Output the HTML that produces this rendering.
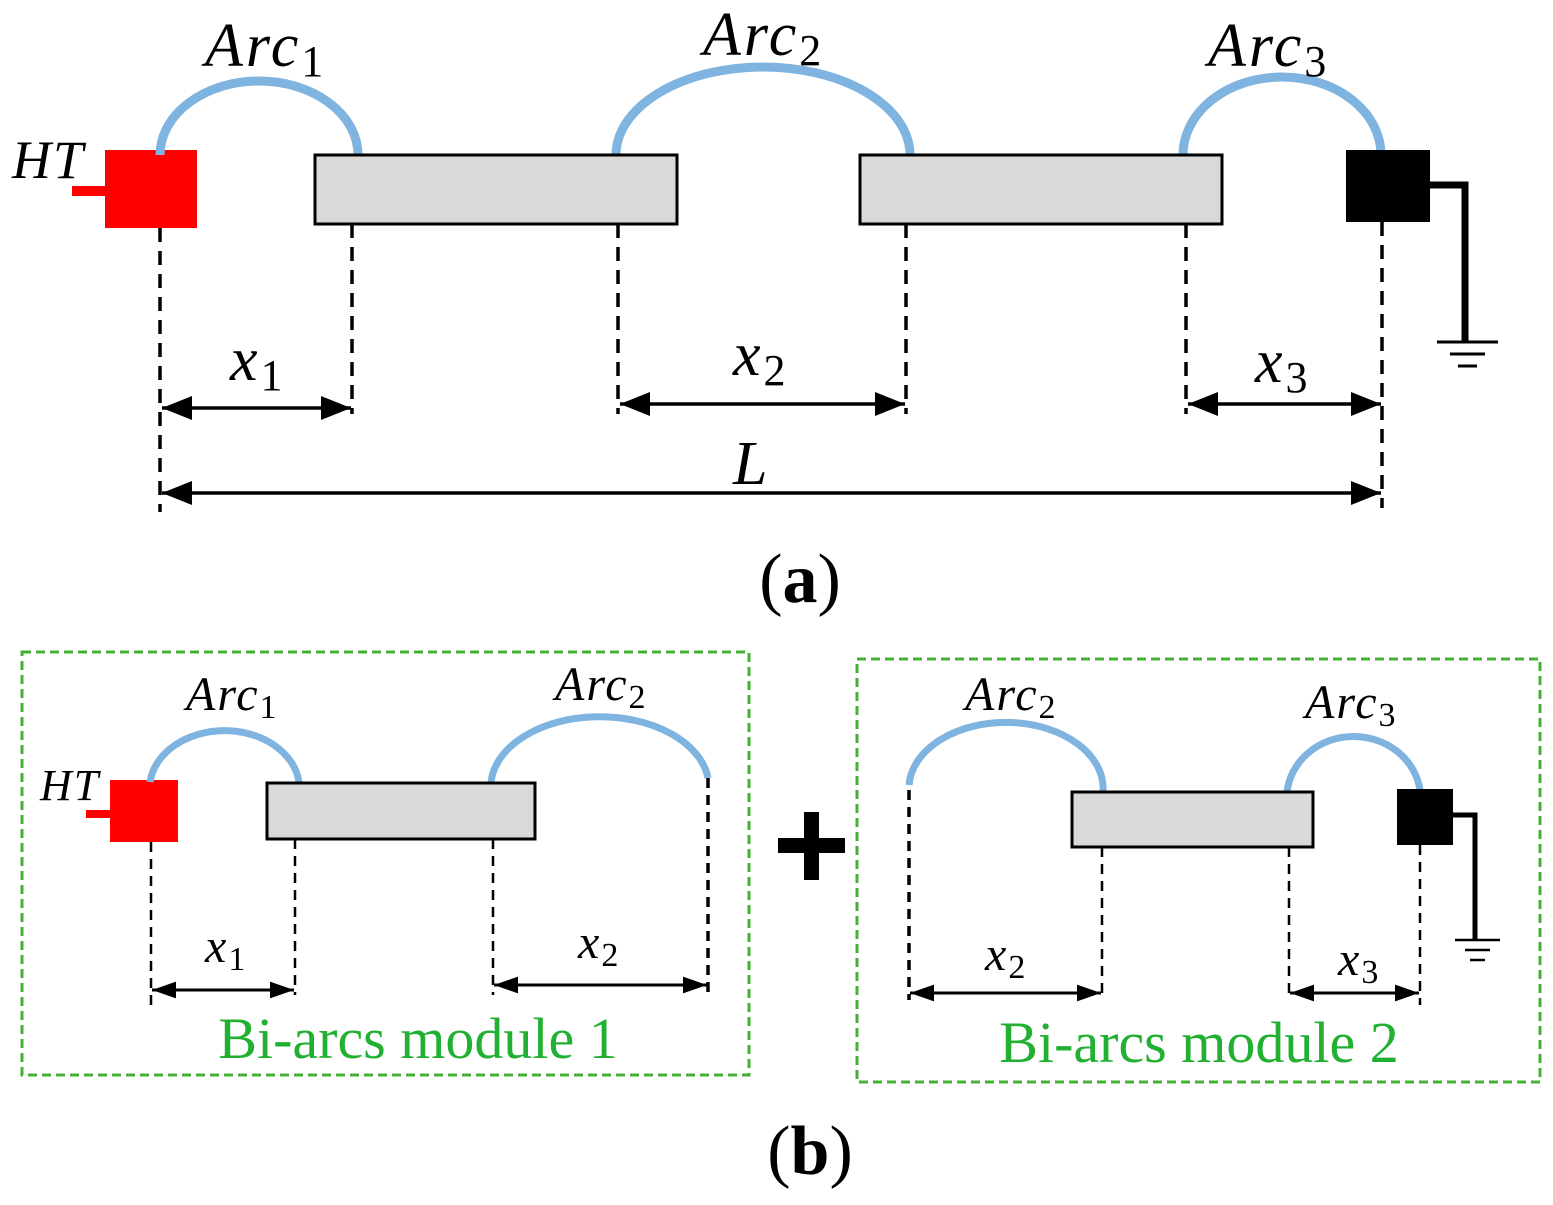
<!DOCTYPE html>
<html><head><meta charset="utf-8"><style>html,body{margin:0;padding:0;background:#fff}svg{display:block}</style></head><body>
<svg width="1553" height="1205" viewBox="0 0 1553 1205" xmlns="http://www.w3.org/2000/svg">
<defs>
<marker id="ab" viewBox="0 0 10 10" refX="10" refY="5" markerWidth="30" markerHeight="30" markerUnits="userSpaceOnUse" orient="auto-start-reverse"><path d="M0,1 L10,5 L0,9 z" fill="#000"/></marker>
<marker id="as" viewBox="0 0 10 10" refX="10" refY="5" markerWidth="24" markerHeight="24" markerUnits="userSpaceOnUse" orient="auto-start-reverse"><path d="M0,1.5 L10,5 L0,8.5 z" fill="#000"/></marker>
</defs>
<g font-family="Liberation Serif, serif" font-style="italic" fill="#000">
<!-- (a) -->
<text x="12" y="178" font-size="54" letter-spacing="2">HT</text>
<rect x="72" y="186" width="35" height="10" fill="#f00"/>
<rect x="105" y="150" width="92" height="78" fill="#f00"/>
<g fill="none" stroke="#7fb3e0" stroke-width="9">
<path d="M160,155 A99,74 0 0 1 358,155"/>
<path d="M616,155 A147,88 0 0 1 910,155"/>
<path d="M1183,155 A99,78 0 0 1 1381,155"/>
</g>
<rect x="315" y="155" width="362" height="69" fill="#d9d9d9" stroke="#000" stroke-width="3"/>
<rect x="860" y="155" width="362" height="69" fill="#d9d9d9" stroke="#000" stroke-width="3"/>
<rect x="1346" y="150" width="84" height="72" fill="#000"/>
<path d="M1430,185 H1465 V342" fill="none" stroke="#000" stroke-width="7"/>
<g stroke="#000" stroke-width="3">
<line x1="1437" y1="342" x2="1498" y2="342"/><line x1="1450" y1="354" x2="1485" y2="354"/><line x1="1458" y1="366" x2="1477" y2="366"/>
</g>
<g stroke="#000" stroke-width="3.5" stroke-dasharray="14,9" fill="none">
<line x1="160" y1="228" x2="160" y2="512"/>
<line x1="352" y1="224" x2="352" y2="414"/>
<line x1="618" y1="224" x2="618" y2="414"/>
<line x1="906" y1="224" x2="906" y2="414"/>
<line x1="1186" y1="224" x2="1186" y2="414"/>
<line x1="1382" y1="222" x2="1382" y2="508"/>
</g>
<g stroke="#000" stroke-width="3.5" fill="none">
<line x1="162" y1="408" x2="351" y2="408" marker-start="url(#ab)" marker-end="url(#ab)"/>
<line x1="620" y1="404" x2="905" y2="404" marker-start="url(#ab)" marker-end="url(#ab)"/>
<line x1="1188" y1="404" x2="1381" y2="404" marker-start="url(#ab)" marker-end="url(#ab)"/>
<line x1="162" y1="493" x2="1381" y2="493" marker-start="url(#ab)" marker-end="url(#ab)"/>
</g>
<text x="205" y="66" font-size="62" letter-spacing="3">Arc<tspan font-style="normal" font-size="44" dy="10">1</tspan></text>
<text x="703" y="55" font-size="62" letter-spacing="3">Arc<tspan font-style="normal" font-size="44" dy="10">2</tspan></text>
<text x="1208" y="66" font-size="62" letter-spacing="3">Arc<tspan font-style="normal" font-size="44" dy="10">3</tspan></text>
<text x="230" y="380" font-size="62" letter-spacing="3">x<tspan font-style="normal" font-size="44" dy="10">1</tspan></text>
<text x="733" y="375" font-size="62" letter-spacing="3">x<tspan font-style="normal" font-size="44" dy="10">2</tspan></text>
<text x="1255" y="382" font-size="62" letter-spacing="3">x<tspan font-style="normal" font-size="44" dy="10">3</tspan></text>
<text x="733" y="484" font-size="62">L</text>
<text x="800" y="602" font-size="70" font-style="normal" text-anchor="middle">(<tspan font-weight="bold">a</tspan>)</text>

<!-- (b) -->
<g fill="none" stroke="#44b034" stroke-width="3" stroke-dasharray="9,5">
<rect x="22" y="652" width="727" height="423"/>
<rect x="857" y="659" width="683" height="423"/>
</g>
<text x="40" y="800" font-size="44" letter-spacing="2">HT</text>
<rect x="86" y="810" width="26" height="8" fill="#f00"/>
<rect x="110" y="780" width="68" height="62" fill="#f00"/>
<g fill="none" stroke="#7fb3e0" stroke-width="7">
<path d="M150,782 A75,58 0 0 1 299,782"/>
<path d="M491,783 A109,70 0 0 1 708,778"/>
<path d="M909,785 A97,66 0 0 1 1103,792"/>
<path d="M1287,792 A67,62 0 0 1 1420,790"/>
</g>
<rect x="267" y="783" width="268" height="56" fill="#d9d9d9" stroke="#000" stroke-width="3"/>
<rect x="1072" y="792" width="241" height="55" fill="#d9d9d9" stroke="#000" stroke-width="3"/>
<rect x="1397" y="789" width="56" height="56" fill="#000"/>
<path d="M1453,815 H1475 V940" fill="none" stroke="#000" stroke-width="5"/>
<g stroke="#000" stroke-width="2.5">
<line x1="1455" y1="940" x2="1500" y2="940"/><line x1="1465" y1="950" x2="1490" y2="950"/><line x1="1470" y1="960" x2="1485" y2="960"/>
</g>
<g stroke="#000" stroke-width="2.5" stroke-dasharray="10,7" fill="none">
<line x1="151" y1="842" x2="151" y2="1005"/>
<line x1="295" y1="839" x2="295" y2="995"/>
<line x1="493" y1="839" x2="493" y2="995"/>
<line x1="708" y1="778" x2="708" y2="992" stroke-width="3.5"/>
<line x1="909" y1="790" x2="909" y2="1000" stroke-width="3.5"/>
<line x1="1102" y1="847" x2="1102" y2="1000"/>
<line x1="1289" y1="847" x2="1289" y2="1000"/>
<line x1="1420" y1="845" x2="1420" y2="1005"/>
</g>
<g stroke="#000" stroke-width="3" fill="none">
<line x1="152" y1="990" x2="294" y2="990" marker-start="url(#as)" marker-end="url(#as)"/>
<line x1="494" y1="985" x2="707" y2="985" marker-start="url(#as)" marker-end="url(#as)"/>
<line x1="910" y1="993" x2="1101" y2="993" marker-start="url(#as)" marker-end="url(#as)"/>
<line x1="1290" y1="993" x2="1419" y2="993" marker-start="url(#as)" marker-end="url(#as)"/>
</g>
<text x="186" y="710" font-size="48" letter-spacing="2">Arc<tspan font-style="normal" font-size="34" dy="8">1</tspan></text>
<text x="555" y="700" font-size="48" letter-spacing="2">Arc<tspan font-style="normal" font-size="34" dy="8">2</tspan></text>
<text x="965" y="710" font-size="48" letter-spacing="2">Arc<tspan font-style="normal" font-size="34" dy="8">2</tspan></text>
<text x="1305" y="718" font-size="48" letter-spacing="2">Arc<tspan font-style="normal" font-size="34" dy="8">3</tspan></text>
<text x="205" y="962" font-size="48" letter-spacing="2">x<tspan font-style="normal" font-size="34" dy="8">1</tspan></text>
<text x="578" y="958" font-size="48" letter-spacing="2">x<tspan font-style="normal" font-size="34" dy="8">2</tspan></text>
<text x="985" y="970" font-size="48" letter-spacing="2">x<tspan font-style="normal" font-size="34" dy="8">2</tspan></text>
<text x="1338" y="975" font-size="48" letter-spacing="2">x<tspan font-style="normal" font-size="34" dy="8">3</tspan></text>
<text x="418" y="1058" font-size="58" font-style="normal" fill="#22b033" text-anchor="middle">Bi-arcs module 1</text>
<text x="1199" y="1062" font-size="58" font-style="normal" fill="#22b033" text-anchor="middle">Bi-arcs module 2</text>
<rect x="778" y="838" width="67" height="15" fill="#000"/>
<rect x="804" y="812" width="15" height="68" fill="#000"/>
<text x="810" y="1174" font-size="70" font-style="normal" text-anchor="middle">(<tspan font-weight="bold">b</tspan>)</text>
</g>
</svg>
</body></html>
